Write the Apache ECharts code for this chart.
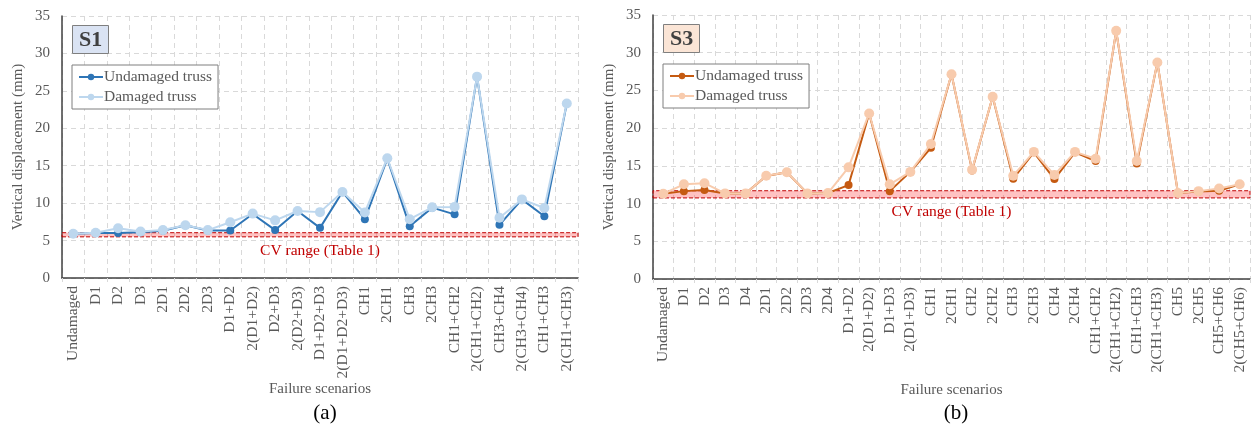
<!DOCTYPE html>
<html><head><meta charset="utf-8">
<script src="https://cdn.jsdelivr.net/npm/echarts@6/dist/echarts.min.js"></script>
<style>html,body{margin:0;padding:0;background:#fff}#c{width:1260px;height:431px}</style>
</head><body><div id="c"></div>
<script>
const catsA = ['Undamaged','D1','D2','D3','2D1','2D2','2D3','D1+D2','2(D1+D2)','D2+D3','2(D2+D3)','D1+D2+D3','2(D1+D2+D3)','CH1','2CH1','CH3','2CH3','CH1+CH2','2(CH1+CH2)','CH3+CH4','2(CH3+CH4)','CH1+CH3','2(CH1+CH3)'];
const undamagedA = [5.9,6.0,6.0,6.1,6.3,7.05,6.35,6.35,8.55,6.4,8.95,6.7,11.5,7.85,15.95,6.9,9.4,8.5,26.9,7.1,10.5,8.25,23.3];
const damagedA = [5.9,6.05,6.65,6.2,6.4,7.05,6.4,7.45,8.6,7.7,8.95,8.8,11.5,8.75,16.0,7.85,9.45,9.5,26.9,8.05,10.5,9.35,23.3];
const cvA = [5.5, 6.05];

const catsB = ['Undamaged','D1','D2','D3','D4','2D1','2D2','2D3','2D4','D1+D2','2(D1+D2)','D1+D3','2(D1+D3)','CH1','2CH1','CH2','2CH2','CH3','2CH3','CH4','2CH4','CH1+CH2','2(CH1+CH2)','CH1+CH3','2(CH1+CH3)','CH5','2CH5','CH5+CH6','2(CH5+CH6)'];
const undamagedB = [11.3,11.65,11.8,11.35,11.35,13.65,14.15,11.35,11.4,12.45,21.95,11.65,14.2,17.4,27.15,14.4,24.15,13.3,16.8,13.25,16.8,15.65,32.9,15.3,28.7,11.4,11.6,11.7,12.55];
const damagedB = [11.3,12.55,12.7,11.35,11.35,13.7,14.15,11.35,11.4,14.8,21.95,12.55,14.2,17.9,27.15,14.5,24.15,13.7,16.85,13.8,16.85,15.95,32.9,15.65,28.7,11.4,11.65,12.0,12.55];
const cvB = [10.75, 11.7];

const yMin = 0, yMax = 35, yStep = 5;
const panelTags = ['S1','S3'];
const panelLetters = ['(a)','(b)'];
const xName = 'Failure scenarios';
const yName = 'Vertical displacement (mm)';
const legendNames = ['Undamaged truss','Damaged truss'];

const F = 'Liberation Serif, Times New Roman, serif';
const grey = '#595959';

function xAxisCfg(cats, gi) {
  return {
    type:'category', gridIndex:gi, data:cats, boundaryGap:true,
    name:xName, nameLocation:'middle', nameGap:104, nameMoveOverlap:false,
    nameTextStyle:{fontFamily:F, fontSize:15, color:grey},
    axisLine:{lineStyle:{color:'#404040', width:1.5}},
    axisTick:{show:true, length:4, lineStyle:{color:'#d9d9d9'}},
    axisLabel:{rotate:90, fontFamily:F, fontSize:15.5, color:grey, margin:8, interval:0},
    splitLine:{show:true, lineStyle:{color:'#d9d9d9', type:[5,4], width:1}}
  };
}
function yAxisCfg(gi) {
  return {
    type:'value', gridIndex:gi, min:yMin, max:yMax, interval:yStep,
    name:yName, nameLocation:'middle', nameGap:36, nameMoveOverlap:false,
    nameTextStyle:{fontFamily:F, fontSize:15, color:grey},
    axisLine:{show:true, lineStyle:{color:'#404040', width:1.5}},
    axisTick:{show:false},
    axisLabel:{fontFamily:F, fontSize:15, color:grey, margin:12},
    splitLine:{show:true, lineStyle:{color:'#d9d9d9', type:[5,4], width:1}}
  };
}
function seriesPair(und, dam, cv, gi, cDark, cLight) {
  return [
    {name:legendNames[0], type:'line', xAxisIndex:gi, yAxisIndex:gi, data:und,
     color:cDark, symbol:'circle', symbolSize:8, lineStyle:{width:2, color:cDark},
     itemStyle:{color:cDark}, z:3, animation:false,
     markArea:{silent:true, z:1,
       itemStyle:{color:'rgba(255,80,80,0.35)', borderColor:'#c00000', borderWidth:1, borderType:'dashed'},
       label:{show:true, position:'bottom', distance:6, formatter:'CV range (Table 1)', fontFamily:F, fontSize:15.5, color:'#c00000'},
       data:[[{yAxis:cv[0]},{yAxis:cv[1]}]]}
    },
    {name:legendNames[1], type:'line', xAxisIndex:gi, yAxisIndex:gi, data:dam,
     color:cLight, symbol:'circle', symbolSize:10, lineStyle:{width:2, color:cLight},
     itemStyle:{color:cLight}, z:4, animation:false}
  ];
}
function legendCfg(left, top) {
  return {
    left:left, top:top, orient:'vertical',
    padding:[4,6,4,6], itemGap:4, itemWidth:24, itemHeight:8,
    borderColor:'#7f7f7f', borderWidth:1, backgroundColor:'#fff',
    textStyle:{fontFamily:F, fontSize:15.5, color:grey, padding:[0,0,0,-4]},
    selectedMode:false
  };
}

const chart = echarts.init(document.getElementById('c'), null, {renderer:'canvas'});
const sA = seriesPair(undamagedA, damagedA, cvA, 0, '#2e75b6', '#bdd7ee');
const sB = seriesPair(undamagedB, damagedB, cvB, 1, '#c55a11', '#f8cbad');
sA[0].name = 'A_' + legendNames[0]; sA[1].name = 'A_' + legendNames[1];
sB[0].name = 'B_' + legendNames[0]; sB[1].name = 'B_' + legendNames[1];
const legA = legendCfg(72, 65); legA.data = sA.map(s=>s.name); legA.formatter = n => n.slice(2);
const legB = legendCfg(663, 64); legB.data = sB.map(s=>s.name); legB.formatter = n => n.slice(2);

chart.setOption({
  animation:false,
  backgroundColor:'#fff',
  title:[
    {text:panelTags[0], left:72, top:25, padding:[4,7,3,7], backgroundColor:'#dae3f3', borderColor:'#7f7f7f', borderWidth:1,
     textStyle:{fontFamily:F, fontSize:22, fontWeight:'bold', color:'#404040'}},
    {text:panelTags[1], left:663, top:24, padding:[4,7,3,7], backgroundColor:'#fbe5d6', borderColor:'#7f7f7f', borderWidth:1,
     textStyle:{fontFamily:F, fontSize:22, fontWeight:'bold', color:'#404040'}},
    {text:panelLetters[0], left:320, top:398, textAlign:'center', textStyle:{fontFamily:F, fontSize:21, fontWeight:'normal', color:'#000'}},
    {text:panelLetters[1], left:951, top:398, textAlign:'center', textStyle:{fontFamily:F, fontSize:21, fontWeight:'normal', color:'#000'}}
  ],
  legend:[legA, legB],
  grid:[
    {left:62, right:1260-578, top:16, bottom:431-278, containLabel:false},
    {left:653, right:10, top:15, bottom:431-279, containLabel:false}
  ],
  xAxis:[xAxisCfg(catsA,0), xAxisCfg(catsB,1)],
  yAxis:[yAxisCfg(0), yAxisCfg(1)],
  series:[...sA, ...sB]
});
</script></body></html>
